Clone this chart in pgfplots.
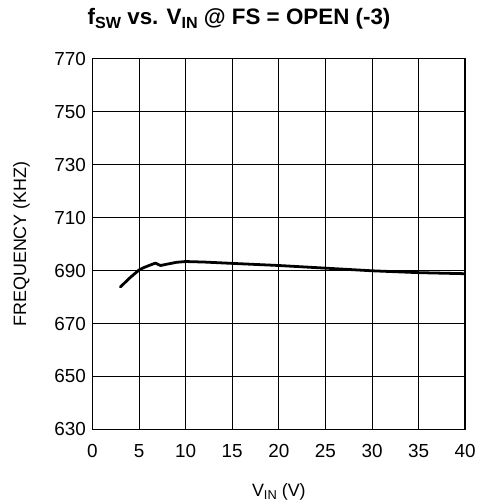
\documentclass[border=0pt]{standalone}
\usepackage{pgfplots}
\pgfplotsset{compat=1.18}
\usepackage{fontspec}
\setmainfont{Liberation Sans}
\setsansfont{Liberation Sans}
\newcommand{\sub}[1]{\raisebox{-0.3ex}{\fontsize{0.72em}{1em}\selectfont #1}}
\begin{document}
\begin{tikzpicture}
\begin{axis}[
  scale only axis,
  width=375pt, height=373pt,
  xmin=0, xmax=40, ymin=630, ymax=770,
  xtick={0,5,...,40}, ytick={630,650,...,770},
  grid=major,
  major grid style={black, line width=0.9pt},
  axis line style={black, line width=1.6pt},
  tick style={draw=none},
  /pgf/number format/assume math mode=true,
  ticklabel style={font=\fontsize{19}{22}\selectfont},
  xticklabel style={yshift=-11pt, text height=13.5pt, text depth=0pt, anchor=north},
  yticklabel style={xshift=-3pt},
  xlabel={V\sub{IN} (V)},
  ylabel={FREQUENCY (KHZ)},
  label style={font=\fontsize{18}{21}\selectfont},
  xlabel style={yshift=-20pt},
  ylabel style={yshift=18pt},
]
\addplot[black, line width=2.8pt, line join=round, line cap=round] coordinates {
(3,683.8) (4,687.2) (5,690.2) (5.5,691.1) (6,691.8) (6.75,692.8) (7.3,691.9) (8,692.4) (9,693.1) (10,693.4) (12,693.2) (15,692.7) (20,691.9) (25,690.9) (30,689.9) (35,689.2) (40,688.8)
};
\end{axis}
\node[font=\fontsize{22.5}{26}\selectfont\bfseries, anchor=base] at ([xshift=-40pt,yshift=34pt]current axis.north) {f\sub{SW} vs. V\sub{IN} @ FS = OPEN (-3)};
\path[use as bounding box] ([xshift=-93pt,yshift=-72pt]current axis.south west) rectangle ([xshift=9pt,yshift=59pt]current axis.north east);
\end{tikzpicture}
\end{document}
